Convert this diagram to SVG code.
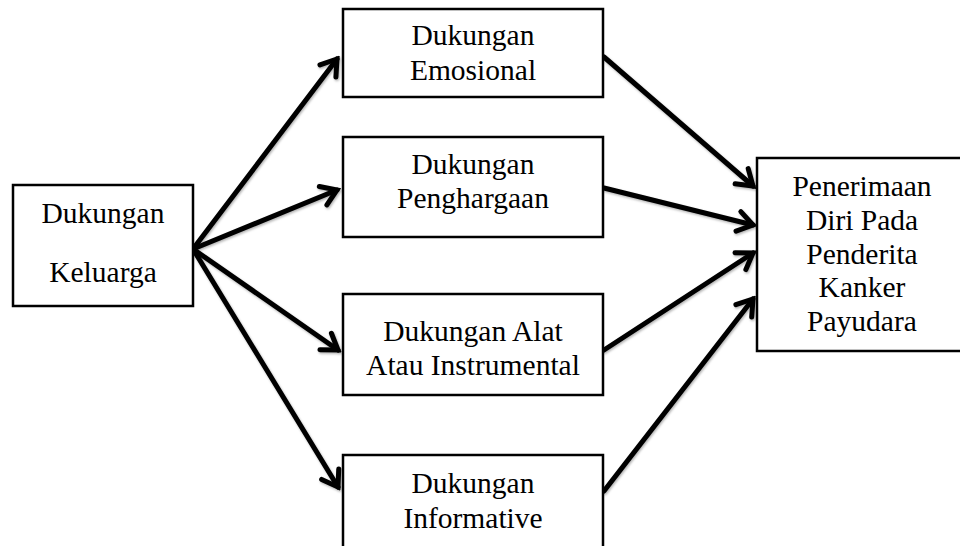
<svg xmlns="http://www.w3.org/2000/svg" width="960" height="546" viewBox="0 0 960 546">
<style>
.box{fill:#fff;stroke:#000;stroke-width:2.5}
.t{font-family:"Liberation Serif","Times New Roman",serif;font-size:29.5px;fill:#000;text-anchor:middle}
.c{stroke:#000;stroke-width:5;fill:none;stroke-linecap:round}
</style>
<defs>
<marker id="ah" markerUnits="userSpaceOnUse" viewBox="-20 -14 24 28" refX="0" refY="0" markerWidth="24" markerHeight="28" orient="auto">
<path d="M-15,-10 L0,0 L-15,10" fill="none" stroke="#000" stroke-width="5" stroke-linecap="round" stroke-linejoin="miter"/>
</marker>
<filter id="sh" x="-10%" y="-10%" width="130%" height="130%">
<feDropShadow dx="1" dy="1.5" stdDeviation="1.2" flood-color="#000" flood-opacity="0.3"/>
</filter>
</defs>
<rect width="960" height="546" fill="#fff"/>
<g id="connectors" filter="url(#sh)">
<line class="c" x1="193" y1="249" x2="337" y2="59" marker-end="url(#ah)"/>
<line class="c" x1="193" y1="249" x2="337" y2="190" marker-end="url(#ah)"/>
<line class="c" x1="193" y1="249" x2="338" y2="350" marker-end="url(#ah)"/>
<line class="c" x1="193" y1="249" x2="338" y2="487" marker-end="url(#ah)"/>
<line class="c" x1="604" y1="57" x2="753" y2="186" marker-end="url(#ah)"/>
<line class="c" x1="604" y1="188" x2="753" y2="225" marker-end="url(#ah)"/>
<line class="c" x1="604" y1="350" x2="753" y2="253" marker-end="url(#ah)"/>
<line class="c" x1="604" y1="491" x2="753" y2="299" marker-end="url(#ah)"/>
</g>
<g id="keluarga">
<rect class="box" x="13" y="185" width="180" height="121"/>
<text class="t" x="103" y="223">Dukungan</text>
<text class="t" x="103" y="282">Keluarga</text>
</g>
<g id="emosional">
<rect class="box" x="343" y="9" width="260" height="88"/>
<text class="t" x="473" y="45">Dukungan</text>
<text class="t" x="473" y="80">Emosional</text>
</g>
<g id="penghargaan">
<rect class="box" x="343" y="137" width="260" height="100"/>
<text class="t" x="473" y="174">Dukungan</text>
<text class="t" x="473" y="208">Penghargaan</text>
</g>
<g id="instrumental">
<rect class="box" x="343" y="294" width="260" height="101"/>
<text class="t" x="473" y="341">Dukungan Alat</text>
<text class="t" x="473" y="375">Atau Instrumental</text>
</g>
<g id="informative">
<rect class="box" x="343" y="455" width="260" height="100"/>
<text class="t" x="473" y="493">Dukungan</text>
<text class="t" x="473" y="528">Informative</text>
</g>
<g id="penerimaan">
<rect class="box" x="757" y="158" width="215" height="193"/>
<text class="t" x="862" y="196">Penerimaan</text>
<text class="t" x="862" y="230">Diri Pada</text>
<text class="t" x="862" y="264">Penderita</text>
<text class="t" x="862" y="297">Kanker</text>
<text class="t" x="862" y="331">Payudara</text>
</g>
</svg>
